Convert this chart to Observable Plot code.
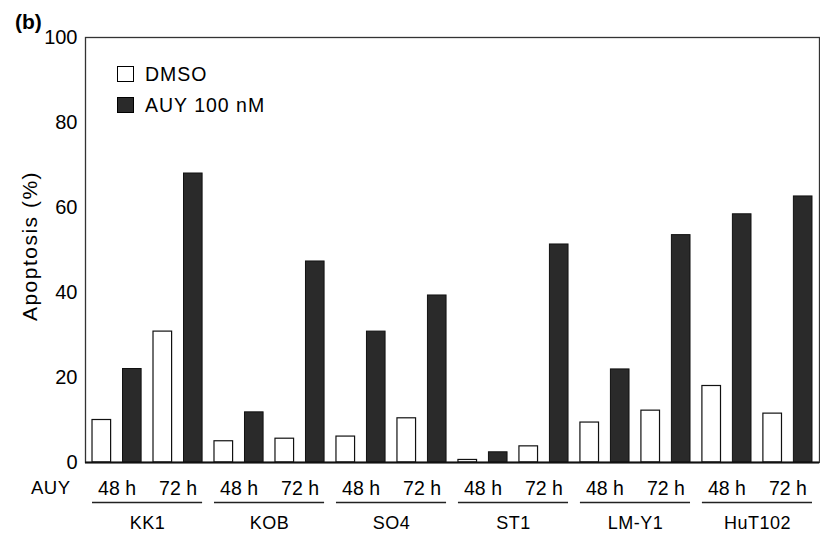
<!DOCTYPE html>
<html>
<head>
<meta charset="utf-8">
<script src="https://cdn.jsdelivr.net/npm/d3@7"></script>
<script src="https://cdn.jsdelivr.net/npm/@observablehq/plot@0.6"></script>
<style>
  body { margin: 0; background: #fff; font-family: "Liberation Sans", Arial, Helvetica, sans-serif; }
  #wrap { position: relative; width: 820px; height: 533px; overflow: hidden; }
  #wrap svg { position: absolute; left: 0; top: 0; }
  .tag { position: absolute; left: 15px; top: 10px; font-weight: bold; font-size: 21px; line-height: 24px; }
  .leg { position: absolute; left: 117px; height: 16px; display: flex; align-items: center; font-size: 19.5px; letter-spacing: 1px; }
  .sw { width: 15px; height: 14px; border: 1.3px solid #000; margin-right: 11px; }
  .ylab text { letter-spacing: 1.5px; }
  .wide text { letter-spacing: 0.5px; }
</style>
</head>
<body>
<div id="wrap">
  <div class="tag">(b)</div>
  <div class="leg" style="top:66px"><div class="sw" style="background:#fff"></div><span>DMSO</span></div>
  <div class="leg" style="top:97px"><div class="sw" style="background:#2a2a2a"></div><span>AUY 100 nM</span></div>
</div>
<script>
// ---- data ----
const cellLines = ["KK1", "KOB", "SO4", "ST1", "LM-Y1", "HuT102"];
const times = ["48 h", "72 h"];
const treatments = ["DMSO", "AUY 100 nM"];
const dmso48 = [10.0, 5.0, 6.1, 0.6, 9.4, 18.0];
const auy48  = [22.0, 11.8, 30.8, 2.4, 21.9, 58.4];
const dmso72 = [30.8, 5.6, 10.4, 3.8, 12.2, 11.5];
const auy72  = [68.0, 47.3, 39.3, 51.3, 53.5, 62.6];
const yTicks = [0, 20, 40, 60, 80, 100];
const yLabel = "Apoptosis (%)";
const xPrefix = "AUY";

// ---- table ----
const series = { "48 h": { "DMSO": dmso48, "AUY 100 nM": auy48 },
                 "72 h": { "DMSO": dmso72, "AUY 100 nM": auy72 } };
const key = (c, t, tr) => `${c}|${t}|${tr}`;
const rows = [];
cellLines.forEach((c, i) => times.forEach(t => treatments.forEach(tr =>
  rows.push({ cell: c, time: t, treat: tr, key: key(c, t, tr), value: series[t][tr][i] }))));
const keys = rows.map(d => d.key);

// ---- layout ----
const W = 820, H = 533, mL = 85, mR = 1, mT = 37, mB = 71;
const pIn = 0.39, pOut = 0.23;
const step = (W - mL - mR) / (keys.length - pIn + 2 * pOut);
const half = step / 2;

const plot = Plot.plot({
  width: W, height: H,
  marginLeft: mL, marginRight: mR, marginTop: mT, marginBottom: mB,
  style: { fontFamily: '"Liberation Sans", Arial, Helvetica, sans-serif', color: "#000", background: "transparent", overflow: "visible" },
  x: { type: "band", domain: keys, paddingInner: pIn, paddingOuter: pOut, round: false, axis: null },
  y: { domain: [0, 100], axis: null },
  marks: [
    Plot.barY(rows.filter(d => d.treat === "DMSO"), { x: "key", y: "value", fill: "#fff", stroke: "#111", strokeWidth: 1.2 }),
    Plot.barY(rows.filter(d => d.treat !== "DMSO"), { x: "key", y: "value", fill: "#2a2a2a", stroke: "#111", strokeWidth: 1 }),
    Plot.frame({ stroke: "#333", strokeWidth: 1.3 }),
    Plot.ruleY([0], { stroke: "#111", strokeWidth: 2 }),
    Plot.axisY(yTicks, { tickSize: 0, tickPadding: 8, fontSize: 20, label: null }),
    Plot.text([yLabel], { text: d => d, frameAnchor: "left", dx: -55, dy: -4, rotate: -90, textAnchor: "middle", lineAnchor: "middle", fontSize: 21, className: "ylab" }),
    Plot.text([xPrefix], { text: d => d, frameAnchor: "bottom-left", dx: -15, dy: 26, textAnchor: "end", lineAnchor: "middle", fontSize: 18.5, className: "wide" }),
    Plot.text(rows.filter(d => d.treat !== "DMSO"), { x: "key", text: "time", frameAnchor: "bottom", dx: -half, dy: 26, textAnchor: "middle", lineAnchor: "middle", fontSize: 19.5 }),
    Plot.ruleY(cellLines, { y: () => 0, x1: c => key(c, "48 h", "DMSO"), x2: c => key(c, "72 h", "AUY 100 nM"), dy: 40, stroke: "#222", strokeWidth: 1.5 }),
    Plot.text(cellLines, { x: c => key(c, "72 h", "DMSO"), text: d => d, frameAnchor: "bottom", dx: -half, dy: 61, textAnchor: "middle", lineAnchor: "middle", fontSize: 18, className: "wide" })
  ]
});
document.getElementById("wrap").prepend(plot);
</script>
</body>
</html>
